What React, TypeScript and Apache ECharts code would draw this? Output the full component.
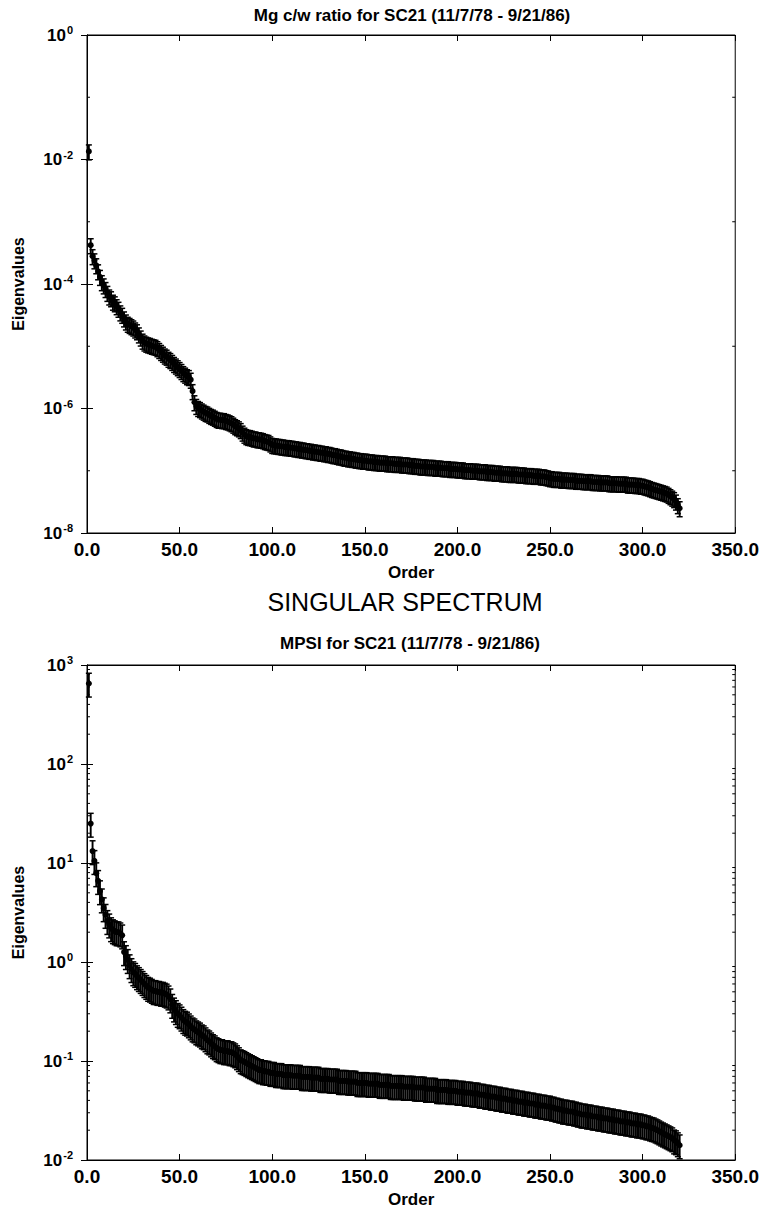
import React, { useEffect, useRef } from "react";
import * as echarts from "echarts";

const FONT = '"Liberation Sans", Arial, Helvetica, sans-serif';

const mainTitle = "SINGULAR SPECTRUM";
const mgTitle = "Mg c/w ratio for SC21 (11/7/78 - 9/21/86)";
const mpsiTitle = "MPSI for SC21 (11/7/78 - 9/21/86)";
const xAxisName = "Order";
const yAxisName = "Eigenvalues";

// relative half-width of the error bars (lambda * (1 +/- e))
const relativeError = 0.27;

// Mg c/w ratio eigenvalues, order 1..320
const mgEigenvalues = [
  1.35e-2, 4.2e-4, 2.8e-4, 2.4e-4, 2.0e-4, 1.6e-4, 1.3e-4, 1.07e-4, 9.5e-5, 8.3e-5,
  7.2e-5, 6.3e-5, 5.9e-5, 5.2e-5, 4.9e-5, 4.4e-5, 4.0e-5, 3.5e-5, 3.2e-5, 2.8e-5,
  2.5e-5, 2.3e-5, 2.2e-5, 2.1e-5, 2.0e-5, 1.86e-5, 1.74e-5, 1.55e-5, 1.38e-5, 1.23e-5,
  1.15e-5, 1.1e-5, 1.07e-5, 1.05e-5, 1.02e-5, 1.0e-5, 9.8e-6, 9.3e-6, 8.7e-6, 8.1e-6,
  7.6e-6, 7.1e-6, 6.8e-6, 6.3e-6, 6.0e-6, 5.6e-6, 5.2e-6, 4.9e-6, 4.6e-6, 4.3e-6,
  4.0e-6, 3.7e-6, 3.5e-6, 3.3e-6, 3.2e-6, 2.9e-6, 1.9e-6, 1.26e-6, 1.1e-6, 1.02e-6,
  9.8e-7, 9.3e-7, 8.9e-7, 8.5e-7, 8.3e-7, 7.9e-7, 7.6e-7, 7.4e-7, 7.1e-7, 6.8e-7,
  6.6e-7, 6.6e-7, 6.5e-7, 6.5e-7, 6.3e-7, 6.2e-7, 6.0e-7, 5.8e-7, 5.5e-7, 5.2e-7,
  5.0e-7, 4.8e-7, 4.5e-7, 4.1e-7, 3.8e-7, 3.6e-7, 3.5e-7, 3.47e-7, 3.4e-7, 3.3e-7,
  3.3e-7, 3.2e-7, 3.2e-7, 3.15e-7, 3.1e-7, 3.0e-7, 2.95e-7, 2.9e-7, 2.75e-7, 2.6e-7,
  2.57e-7, 2.55e-7, 2.51e-7, 2.5e-7, 2.45e-7, 2.45e-7, 2.4e-7, 2.4e-7, 2.39e-7, 2.34e-7,
  2.34e-7, 2.29e-7, 2.29e-7, 2.24e-7, 2.24e-7, 2.19e-7, 2.19e-7, 2.14e-7, 2.14e-7, 2.09e-7,
  2.09e-7, 2.04e-7, 2.04e-7, 2.0e-7, 2.0e-7, 1.95e-7, 1.95e-7, 1.91e-7, 1.91e-7, 1.86e-7,
  1.86e-7, 1.82e-7, 1.78e-7, 1.78e-7, 1.74e-7, 1.7e-7, 1.7e-7, 1.66e-7, 1.62e-7, 1.62e-7,
  1.58e-7, 1.58e-7, 1.55e-7, 1.55e-7, 1.51e-7, 1.51e-7, 1.48e-7, 1.48e-7, 1.45e-7, 1.45e-7,
  1.45e-7, 1.41e-7, 1.41e-7, 1.41e-7, 1.38e-7, 1.38e-7, 1.38e-7, 1.35e-7, 1.35e-7, 1.35e-7,
  1.35e-7, 1.32e-7, 1.32e-7, 1.32e-7, 1.32e-7, 1.29e-7, 1.29e-7, 1.29e-7, 1.29e-7, 1.26e-7,
  1.26e-7, 1.26e-7, 1.26e-7, 1.23e-7, 1.23e-7, 1.23e-7, 1.2e-7, 1.2e-7, 1.2e-7, 1.17e-7,
  1.17e-7, 1.17e-7, 1.17e-7, 1.15e-7, 1.15e-7, 1.15e-7, 1.15e-7, 1.12e-7, 1.12e-7, 1.12e-7,
  1.12e-7, 1.1e-7, 1.1e-7, 1.1e-7, 1.1e-7, 1.07e-7, 1.07e-7, 1.07e-7, 1.07e-7, 1.05e-7,
  1.05e-7, 1.05e-7, 1.05e-7, 1.02e-7, 1.02e-7, 1.02e-7, 1.02e-7, 1.0e-7, 1.0e-7, 1.0e-7,
  1.0e-7, 9.8e-8, 9.8e-8, 9.8e-8, 9.8e-8, 9.55e-8, 9.55e-8, 9.55e-8, 9.55e-8, 9.3e-8,
  9.3e-8, 9.3e-8, 9.3e-8, 9.1e-8, 9.1e-8, 9.1e-8, 9.1e-8, 8.9e-8, 8.9e-8, 8.9e-8,
  8.9e-8, 8.9e-8, 8.7e-8, 8.7e-8, 8.7e-8, 8.7e-8, 8.5e-8, 8.5e-8, 8.5e-8, 8.5e-8,
  8.3e-8, 8.3e-8, 8.3e-8, 8.3e-8, 8.1e-8, 8.1e-8, 8.1e-8, 7.9e-8, 7.8e-8, 7.6e-8,
  7.6e-8, 7.4e-8, 7.4e-8, 7.4e-8, 7.4e-8, 7.2e-8, 7.2e-8, 7.2e-8, 7.2e-8, 7.1e-8,
  7.1e-8, 7.1e-8, 7.1e-8, 6.9e-8, 6.9e-8, 6.9e-8, 6.9e-8, 6.8e-8, 6.8e-8, 6.8e-8,
  6.8e-8, 6.8e-8, 6.6e-8, 6.6e-8, 6.6e-8, 6.6e-8, 6.5e-8, 6.5e-8, 6.5e-8, 6.5e-8,
  6.5e-8, 6.3e-8, 6.3e-8, 6.3e-8, 6.3e-8, 6.3e-8, 6.2e-8, 6.2e-8, 6.2e-8, 6.2e-8,
  6.2e-8, 6.0e-8, 6.0e-8, 6.0e-8, 6.0e-8, 5.9e-8, 5.9e-8, 5.9e-8, 5.75e-8, 5.75e-8,
  5.6e-8, 5.5e-8, 5.4e-8, 5.25e-8, 5.1e-8, 5.0e-8, 4.9e-8, 4.8e-8, 4.7e-8, 4.6e-8,
  4.5e-8, 4.4e-8, 4.3e-8, 4.1e-8, 3.9e-8, 3.7e-8, 3.5e-8, 3.2e-8, 2.8e-8, 2.5e-8,
];

// MPSI eigenvalues, order 1..320
const mpsiEigenvalues = [
  650, 25, 13.2, 10.5, 7.9, 6.6, 5.2, 4.3, 3.5, 3.0,
  2.6, 2.4, 2.2, 2.1, 2.05, 2.0, 2.0, 1.95, 1.86, 1.26,
  1.15, 1.05, 0.93, 0.85, 0.79, 0.76, 0.72, 0.69, 0.66, 0.63,
  0.6, 0.575, 0.55, 0.54, 0.525, 0.51, 0.51, 0.5, 0.5, 0.49,
  0.49, 0.48, 0.47, 0.45, 0.42, 0.37, 0.34, 0.32, 0.3, 0.29,
  0.275, 0.26, 0.25, 0.245, 0.235, 0.224, 0.214, 0.209, 0.2, 0.195,
  0.19, 0.182, 0.178, 0.17, 0.162, 0.158, 0.151, 0.145, 0.141, 0.135,
  0.132, 0.129, 0.129, 0.126, 0.126, 0.126, 0.123, 0.123, 0.12, 0.117,
  0.112, 0.107, 0.102, 0.1, 0.098, 0.0955, 0.093, 0.091, 0.089, 0.087,
  0.085, 0.083, 0.081, 0.081, 0.079, 0.079, 0.078, 0.078, 0.076, 0.076,
  0.076, 0.074, 0.074, 0.074, 0.074, 0.072, 0.072, 0.072, 0.072, 0.072,
  0.071, 0.071, 0.071, 0.071, 0.071, 0.069, 0.069, 0.069, 0.069, 0.069,
  0.068, 0.068, 0.068, 0.068, 0.068, 0.066, 0.066, 0.066, 0.066, 0.066,
  0.065, 0.065, 0.065, 0.065, 0.065, 0.063, 0.063, 0.063, 0.063, 0.063,
  0.062, 0.062, 0.062, 0.062, 0.062, 0.06, 0.06, 0.06, 0.06, 0.06,
  0.06, 0.059, 0.059, 0.059, 0.059, 0.059, 0.059, 0.0575, 0.0575, 0.0575,
  0.0575, 0.0575, 0.0575, 0.056, 0.056, 0.056, 0.056, 0.056, 0.056, 0.056,
  0.055, 0.055, 0.055, 0.055, 0.055, 0.055, 0.054, 0.054, 0.054, 0.054,
  0.054, 0.054, 0.0525, 0.0525, 0.0525, 0.0525, 0.0525, 0.0525, 0.051, 0.051,
  0.051, 0.051, 0.051, 0.051, 0.05, 0.05, 0.05, 0.05, 0.05, 0.049,
  0.049, 0.049, 0.049, 0.048, 0.048, 0.048, 0.048, 0.047, 0.047, 0.047,
  0.047, 0.0457, 0.0457, 0.0457, 0.0447, 0.0447, 0.0447, 0.0437, 0.0437, 0.0437,
  0.0427, 0.0427, 0.0427, 0.0417, 0.0417, 0.0417, 0.0407, 0.0407, 0.0407, 0.0398,
  0.0398, 0.0398, 0.0389, 0.0389, 0.0389, 0.038, 0.038, 0.038, 0.0372, 0.0372,
  0.0372, 0.0363, 0.0363, 0.0363, 0.0355, 0.0355, 0.0355, 0.0347, 0.0347, 0.0347,
  0.0339, 0.0339, 0.0331, 0.0331, 0.0324, 0.0324, 0.0316, 0.0316, 0.0316, 0.0309,
  0.0309, 0.0309, 0.0302, 0.0302, 0.0295, 0.0295, 0.0288, 0.0288, 0.0288, 0.0282,
  0.0282, 0.0282, 0.0275, 0.0275, 0.0275, 0.0269, 0.0269, 0.0269, 0.0263, 0.0263,
  0.0263, 0.0257, 0.0257, 0.0257, 0.0251, 0.0251, 0.0251, 0.0245, 0.0245, 0.0245,
  0.024, 0.024, 0.024, 0.0234, 0.0234, 0.0234, 0.0229, 0.0229, 0.0229, 0.0224,
  0.0224, 0.0219, 0.0219, 0.0214, 0.0211, 0.0209, 0.0204, 0.02, 0.0195, 0.019,
  0.0186, 0.0182, 0.0178, 0.0174, 0.017, 0.0166, 0.0158, 0.0155, 0.0148, 0.0141,
];

// axis ranges
const orderRange = [0, 350];
const orderStep = 50;
const mgRange = [1e-8, 1];
const mpsiRange = [1e-2, 1e3];

// small tick marks between labelled decades
const mgMinorTicks = [1e-7, 1e-5, 1e-3, 1e-1];
const minorMantissas = [2, 3, 4, 5, 6, 7, 8, 9];
const mpsiDecades = [1e-2, 1e-1, 1, 10, 100];

function ErrorBars(params: any, api: any) {
  const x = api.value(0);
  const y = api.value(1);
  const c = api.coord([x, y]);
  const hi = api.coord([x, y * (1 + relativeError)]);
  const lo = api.coord([x, y * (1 - relativeError)]);
  const cap = 3;
  const st = { stroke: "#000", lineWidth: 1.9 };
  const capSt = { stroke: "#000", lineWidth: 1.5 };
  return {
    type: "group",
    children: [
      { type: "line", shape: { x1: c[0], y1: hi[1], x2: c[0], y2: lo[1] }, style: st },
      { type: "line", shape: { x1: c[0] - cap, y1: hi[1], x2: c[0] + cap, y2: hi[1] }, style: capSt },
      { type: "line", shape: { x1: c[0] - cap, y1: lo[1], x2: c[0] + cap, y2: lo[1] }, style: capSt },
      { type: "circle", shape: { cx: c[0], cy: c[1], r: 3 }, style: { fill: "#000" } },
    ],
  };
}

function MinorTick(params: any, api: any) {
  const v = api.value(1);
  const p = api.coord([0, v]);
  const cs = params.coordSys;
  const len = 3;
  const st = { stroke: "#000", lineWidth: 1 };
  return {
    type: "group",
    children: [
      { type: "line", shape: { x1: cs.x, y1: p[1], x2: cs.x + len, y2: p[1] }, style: st },
      { type: "line", shape: { x1: cs.x + cs.width - len, y1: p[1], x2: cs.x + cs.width, y2: p[1] }, style: st },
    ],
  };
}

function xAxis(gridIndex: number, position: "bottom" | "top") {
  const main = position === "bottom";
  return {
    type: "value",
    gridIndex,
    position,
    min: orderRange[0],
    max: orderRange[1],
    interval: orderStep,
    axisLine: { show: true, onZero: false, lineStyle: { color: "#000", width: 1 } },
    axisTick: { show: true, inside: true, length: 6, lineStyle: { color: "#000", width: 1 } },
    axisLabel: {
      show: main,
      formatter: (v: number) => v.toFixed(1),
      fontSize: 19,
      fontWeight: "bold",
      color: "#000",
      fontFamily: FONT,
      margin: 7,
    },
    splitLine: { show: false },
    name: main ? xAxisName : "",
    nameLocation: "middle",
    nameGap: 31,
    nameTextStyle: { fontSize: 17, fontWeight: "bold", color: "#000", fontFamily: FONT },
  };
}

function yAxis(gridIndex: number, position: "left" | "right", range: number[], interval: number) {
  const main = position === "left";
  return {
    type: "log",
    logBase: 10,
    gridIndex,
    position,
    min: range[0],
    max: range[1],
    interval,
    axisLine: { show: true, lineStyle: { color: "#000", width: 1 } },
    axisTick: { show: true, inside: true, length: 6, lineStyle: { color: "#000", width: 1 } },
    axisLabel: {
      show: main,
      margin: 14,
      formatter: (v: number) => `{b|10}{s|${Math.round(Math.log10(v))}}`,
      rich: {
        b: { fontSize: 17, fontWeight: "bold", color: "#000", fontFamily: FONT },
        s: { fontSize: 11, fontWeight: "bold", color: "#000", fontFamily: FONT, padding: [0, 0, 10, 1] },
      },
    },
    splitLine: { show: false },
    name: main ? yAxisName : "",
    nameLocation: "middle",
    nameRotate: 90,
    nameGap: 61,
    nameTextStyle: { fontSize: 16, fontWeight: "bold", color: "#000", fontFamily: FONT },
  };
}

export default function App() {
  const ref = useRef<HTMLDivElement>(null);

  useEffect(() => {
    if (!ref.current) return;
    const chart = echarts.init(ref.current, undefined, { renderer: "svg" });

    const mgPoints = mgEigenvalues.map((v, i) => [i + 1, v]);
    const mpsiPoints = mpsiEigenvalues.map((v, i) => [i + 1, v]);
    const mgMinor = mgMinorTicks.map((v) => [0, v]);
    const mpsiMinor: number[][] = [];
    mpsiDecades.forEach((d) => minorMantissas.forEach((m) => mpsiMinor.push([0, m * d])));

    const titleStyle = (text: string, size: number, weight: string) => ({
      text,
      fill: "#000",
      font: `${weight} ${size}px ${FONT}`,
      align: "center",
      verticalAlign: "middle",
      textAlign: "center",
      textVerticalAlign: "middle",
    });

    chart.setOption({
      animation: false,
      backgroundColor: "#fff",
      textStyle: { fontFamily: FONT },
      grid: [
        { left: 87, top: 35, width: 650, height: 498, show: true, borderColor: "#000", borderWidth: 1, containLabel: false },
        { left: 87, top: 665, width: 650, height: 495, show: true, borderColor: "#000", borderWidth: 1, containLabel: false },
      ],
      xAxis: [xAxis(0, "bottom"), xAxis(0, "top"), xAxis(1, "bottom"), xAxis(1, "top")],
      yAxis: [
        yAxis(0, "left", mgRange, 2),
        yAxis(0, "right", mgRange, 2),
        yAxis(1, "left", mpsiRange, 1),
        yAxis(1, "right", mpsiRange, 1),
      ],
      graphic: [
        { type: "text", x: 412, y: 15, style: titleStyle(mgTitle, 17, "bold") },
        { type: "text", x: 405, y: 602, style: titleStyle(mainTitle, 25, "normal") },
        { type: "text", x: 410, y: 643, style: titleStyle(mpsiTitle, 17, "bold") },
      ],
      series: [
        {
          type: "custom",
          name: "Mg c/w ratio",
          xAxisIndex: 0,
          yAxisIndex: 0,
          data: mgPoints,
          encode: { x: 0, y: 1 },
          renderItem: ErrorBars,
          silent: true,
        },
        {
          type: "custom",
          xAxisIndex: 0,
          yAxisIndex: 0,
          data: mgMinor,
          encode: { x: 0, y: 1 },
          renderItem: MinorTick,
          silent: true,
        },
        {
          type: "custom",
          name: "MPSI",
          xAxisIndex: 2,
          yAxisIndex: 2,
          data: mpsiPoints,
          encode: { x: 0, y: 1 },
          renderItem: ErrorBars,
          silent: true,
        },
        {
          type: "custom",
          xAxisIndex: 2,
          yAxisIndex: 2,
          data: mpsiMinor,
          encode: { x: 0, y: 1 },
          renderItem: MinorTick,
          silent: true,
        },
      ],
    });

    return () => chart.dispose();
  }, []);

  return (
    <div
      ref={ref}
      style={{ position: "absolute", left: 0, top: 0, width: 762, height: 1210, background: "#fff" }}
    />
  );
}
